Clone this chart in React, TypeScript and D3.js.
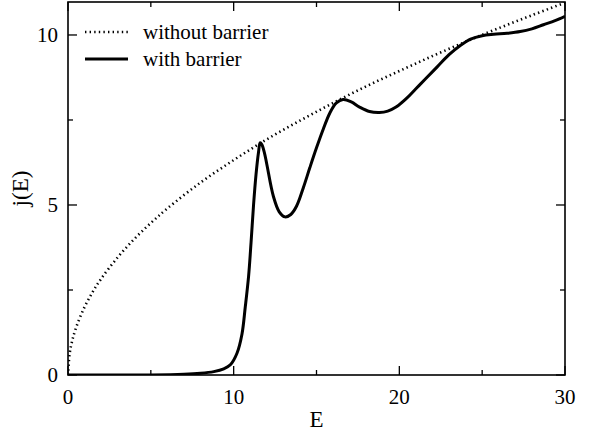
import React from "react";
import * as d3 from "d3";

// curve without barrier
const freeE = [0, 0.1, 0.25, 0.5, 1, 1.5, 2, 3, 4, 5, 6, 8, 10, 12, 14, 16, 18, 20, 22, 24, 26, 28, 30];
const freeJ = [0, 0.63, 1.0, 1.41, 2.0, 2.45, 2.83, 3.46, 4.0, 4.47, 4.9, 5.66, 6.32, 6.93, 7.48, 8.0, 8.49, 8.94, 9.38, 9.8, 10.2, 10.58, 10.95];

// curve with barrier
const barE = [0, 5, 7, 8, 8.8, 9.4, 9.8, 10.2, 10.5, 10.7, 10.9, 11.05, 11.2, 11.35, 11.5, 11.6, 11.7, 11.85, 12.0, 12.4, 12.75, 13.1, 13.45, 13.8, 14.2, 14.6, 15.0, 15.4, 15.8, 16.2, 16.6, 17.1, 17.6, 18.2, 18.8, 19.3, 19.8, 20.4, 21.0, 21.6, 22.3, 23.0, 23.7, 24.3, 25.0, 25.7, 26.5, 27.3, 28.0, 28.7, 29.4, 30];
const barJ = [0, 0, 0.02, 0.05, 0.1, 0.18, 0.3, 0.64, 1.2, 2.0, 2.9, 3.9, 5.0, 5.9, 6.55, 6.83, 6.78, 6.55, 6.2, 5.25, 4.8, 4.65, 4.72, 4.97, 5.5, 6.1, 6.68, 7.22, 7.7, 8.0, 8.1, 8.03, 7.88, 7.75, 7.72, 7.76, 7.88, 8.12, 8.42, 8.72, 9.07, 9.42, 9.7, 9.88, 9.98, 10.02, 10.05, 10.1, 10.18, 10.3, 10.42, 10.55];

const xMajor = [0, 10, 20, 30];
const xMinor = [5, 15, 25];
const yMajor = [0, 5, 10];
const yMinor = [2.5, 7.5];

const legendLabels = ["without barrier", "with barrier"];

export default function App() {
  const width = 595;
  const height = 437;
  const margin = { top: 2, right: 30, bottom: 62, left: 68 };

  const x = d3.scaleLinear().domain([0, 30]).range([margin.left, width - margin.right]);
  const y = d3.scaleLinear().domain([0, 10.97]).range([height - margin.bottom, margin.top]);

  const line = d3
    .line<[number, number]>()
    .x((d) => x(d[0]))
    .y((d) => y(d[1]))
    .curve(d3.curveCatmullRom.alpha(0.5));

  const freePts = freeE.map((e, i) => [e, freeJ[i]] as [number, number]);
  const barPts = barE.map((e, i) => [e, barJ[i]] as [number, number]);

  const x0 = x(0), x1 = x(30), y0 = y(0), y1 = margin.top;
  const font = "Liberation Serif, DejaVu Serif, serif";
  const dots = "1.4 3.2";

  return (
    <svg
      width={width}
      height={height}
      style={{ position: "absolute", left: 0, top: 0, background: "#fff" }}
      fontFamily={font}
    >
      <defs>
        <clipPath id="plot">
          <rect x={x0} y={y1} width={x1 - x0} height={y0 - y1} />
        </clipPath>
      </defs>

      <g clipPath="url(#plot)">
        <path d={line(freePts) ?? ""} fill="none" stroke="#000" strokeWidth={2.6} strokeDasharray={dots} />
        <path d={line(barPts) ?? ""} fill="none" stroke="#000" strokeWidth={3} />
      </g>

      {/* frame */}
      <rect x={x0} y={y1} width={x1 - x0} height={y0 - y1} fill="none" stroke="#000" strokeWidth={1.6} />

      {/* x ticks, bottom and top, pointing inward */}
      {xMajor.map((v) => (
        <g key={"xM" + v}>
          <line x1={x(v)} x2={x(v)} y1={y0} y2={y0 - 9} stroke="#000" strokeWidth={1.3} />
          <line x1={x(v)} x2={x(v)} y1={y1} y2={y1 + 9} stroke="#000" strokeWidth={1.3} />
          <text x={x(v)} y={y0 + 29} textAnchor="middle" fontSize={21}>{v}</text>
        </g>
      ))}
      {xMinor.map((v) => (
        <g key={"xm" + v}>
          <line x1={x(v)} x2={x(v)} y1={y0} y2={y0 - 5} stroke="#000" strokeWidth={1.3} />
          <line x1={x(v)} x2={x(v)} y1={y1} y2={y1 + 5} stroke="#000" strokeWidth={1.3} />
        </g>
      ))}

      {/* y ticks, left and right */}
      {yMajor.map((v) => (
        <g key={"yM" + v}>
          <line x1={x0} x2={x0 + 9} y1={y(v)} y2={y(v)} stroke="#000" strokeWidth={1.3} />
          <line x1={x1} x2={x1 - 9} y1={y(v)} y2={y(v)} stroke="#000" strokeWidth={1.3} />
          <text x={x0 - 10} y={y(v) + 7} textAnchor="end" fontSize={21}>{v}</text>
        </g>
      ))}
      {yMinor.map((v) => (
        <g key={"ym" + v}>
          <line x1={x0} x2={x0 + 5} y1={y(v)} y2={y(v)} stroke="#000" strokeWidth={1.3} />
          <line x1={x1} x2={x1 - 5} y1={y(v)} y2={y(v)} stroke="#000" strokeWidth={1.3} />
        </g>
      ))}

      {/* axis titles */}
      <text x={(x0 + x1) / 2} y={y0 + 52} textAnchor="middle" fontSize={23}>E</text>
      <text transform={`translate(28,${(y0 + y1) / 2}) rotate(-90)`} textAnchor="middle" fontSize={23}>
        j(E)
      </text>

      {/* legend */}
      <g>
        <line x1={85} x2={128} y1={32} y2={32} stroke="#000" strokeWidth={2.6} strokeDasharray={dots} />
        <text x={143} y={39} fontSize={21}>{legendLabels[0]}</text>
        <line x1={85} x2={128} y1={59} y2={59} stroke="#000" strokeWidth={3} />
        <text x={143} y={66} fontSize={21}>{legendLabels[1]}</text>
      </g>
    </svg>
  );
}
